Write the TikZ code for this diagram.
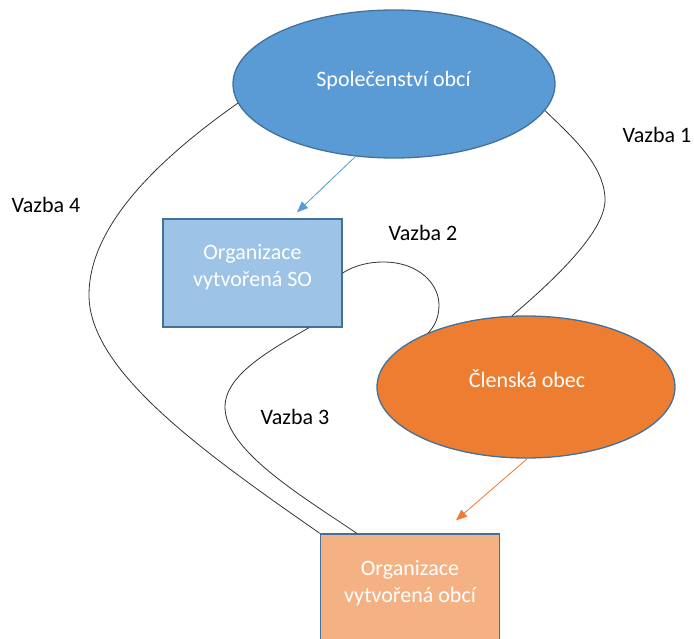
\documentclass[tikz,border=0pt]{standalone}
\usepackage{fontspec}
\setmainfont{Carlito}
\usetikzlibrary{shapes.geometric,arrows.meta,calc}
\definecolor{soblue}{HTML}{5B9BD5}
\definecolor{edgeblue}{HTML}{41719C}
\definecolor{lightblue}{HTML}{9DC3E6}
\definecolor{orangec}{HTML}{ED7D31}
\definecolor{lightorange}{HTML}{F4B183}
\begin{document}
\begin{tikzpicture}[x=1pt,y=-1pt,
  font=\fontsize{22}{27}\selectfont,
  shapeborder/.style={draw=edgeblue, line width=1.3pt},
  ell/.style={ellipse, shapeborder, inner sep=0pt},
  box/.style={rectangle, shapeborder, inner sep=0pt, minimum width=179pt, minimum height=108pt},
  txt/.style={text=white, align=center, inner sep=0pt},
  lbl/.style={text=black, inner sep=0pt, anchor=base},
  link/.style={draw=black!80, line width=0.8pt},
  arr/.style={-{Triangle[length=11pt,width=9pt]}, line width=0.8pt}]
\clip (0,0) rectangle (694,639);
% shapes
\node[ell, fill=soblue, minimum width=322pt, minimum height=148pt] (top) at (394,84) {};
\node[box, fill=lightblue] (so) at (252.5,273) {};
\node[ell, fill=orangec, minimum width=298pt, minimum height=142pt] (obec) at (526,387) {};
\node[box, fill=lightorange] (org) at (410,588) {};
% texts inside shapes
\node[txt, anchor=base] (toptext) at (393.5,87) {Společenství obcí};
\node[txt] (sotext) at (252.5,267) {Organizace\\vytvořená SO};
\node[txt, anchor=base] (obectext) at (527,387) {Členská obec};
\node[txt] (orgtext) at (410,583.5) {Organizace\\vytvořená obcí};
% labels
\node[lbl] (v1) at (657,143) {Vazba 1};
\node[lbl] (v2) at (423,241) {Vazba 2};
\node[lbl] (v3) at (295,424) {Vazba 3};
\node[lbl] (v4) at (46,213) {Vazba 4};
% links
\draw[link] (top.187) .. controls (150,165) and (89,230) .. (89,295)
  .. controls (89,370) and (200,450) .. (org.north west);
\draw[link] (top.-10) .. controls (570,135) and (605,165) .. (605,200)
  .. controls (605,230) and (560,275) .. (obec.101);
\draw[link] (so.east) .. controls (355,265) and (370,262) .. (383,262)
  .. controls (420,262) and (439,285) .. (439,305)
  .. controls (439,318) and (434,327) .. (obec.151);
\draw[link] (so.-44) .. controls (270,350) and (225,375) .. (225,407)
  .. controls (225,450) and (300,495) .. ($(org.north west)+(37,0)$);
% arrows
\draw[arr, draw=soblue, fill=soblue] (top.242) -- ($(so.north)+(44.5,-6)$);
\draw[arr, draw=orangec, fill=orangec] (obec.271) -- ($(org.north)+(46,-13)$);
\end{tikzpicture}
\end{document}
